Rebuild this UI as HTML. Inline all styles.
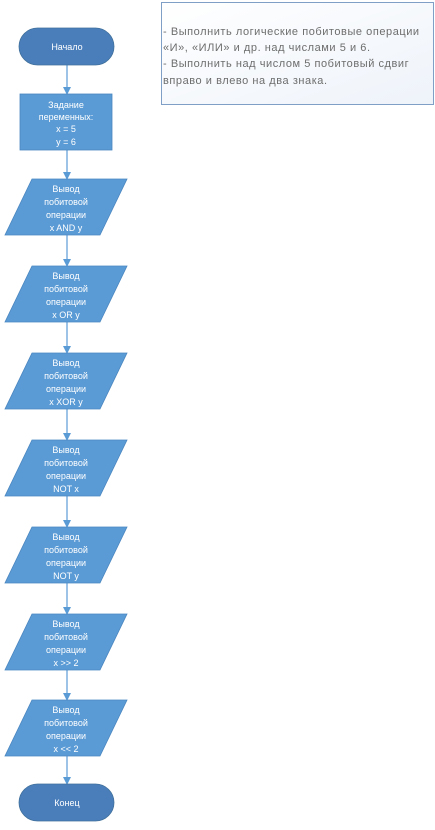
<!DOCTYPE html>
<html><head><meta charset="utf-8"><style>
html,body{margin:0;padding:0;background:#fff;}
svg{display:block;}
text{font-family:"Liberation Sans",sans-serif;font-size:9px;fill:#fff;text-anchor:middle;}
.n{fill:#6d6d6d;text-anchor:start;font-size:11px;letter-spacing:0.55px;}
</style></head><body>
<svg width="435" height="830" viewBox="0 0 435 830" xmlns="http://www.w3.org/2000/svg">
<defs>
<marker id="a" markerWidth="8" markerHeight="8" refX="7" refY="4" orient="auto" markerUnits="userSpaceOnUse">
<path d="M0,0 L8,4 L0,8 z" fill="#5b9bd5"/></marker>
<linearGradient id="g" x1="0" y1="0" x2="1" y2="1"><stop offset="0" stop-color="#fff"/><stop offset="1" stop-color="#eef3fa"/></linearGradient>
</defs>
<rect x="161.5" y="2.5" width="272" height="102" fill="url(#g)" stroke="#7f9fc6"/>
<text class="n" x="163" y="35">- Выполнить логические побитовые операции</text>
<text class="n" x="163" y="51">«И», «ИЛИ» и др. над числами 5 и 6.</text>
<text class="n" x="163" y="67">- Выполнить над числом 5 побитовый сдвиг</text>
<text class="n" x="163" y="84">вправо и влево на два знака.</text>
<g stroke="#5b9bd5" stroke-width="1.2" fill="none" marker-end="url(#a)">
<line x1="67" y1="65" x2="67" y2="94"/>
<line x1="67" y1="150" x2="67" y2="179"/>
<line x1="67" y1="235" x2="67" y2="266"/>
<line x1="67" y1="322" x2="67" y2="353"/>
<line x1="67" y1="409" x2="67" y2="440"/>
<line x1="67" y1="496" x2="67" y2="527"/>
<line x1="67" y1="583" x2="67" y2="614"/>
<line x1="67" y1="670" x2="67" y2="700"/>
<line x1="67" y1="756" x2="67" y2="784"/>
</g>
<rect x="19" y="28" width="95" height="37" rx="18.5" fill="#4a7ebb" stroke="#41719c" stroke-width="0.8"/>
<text x="67" y="50">Начало</text>
<rect x="20" y="94" width="92" height="56" fill="#5b9bd5" stroke="#4a86c0" stroke-width="0.8"/>
<text x="66" y="108">Задание</text><text x="66" y="120">переменных:</text><text x="66" y="132">x = 5</text><text x="66" y="145">y = 6</text>
<g fill="#5b9bd5" stroke="#4a86c0" stroke-width="0.8">
<polygon points="32,179 127,179 100,235 5,235"/>
<polygon points="32,266 127,266 100,322 5,322"/>
<polygon points="32,353 127,353 100,409 5,409"/>
<polygon points="32,440 127,440 100,496 5,496"/>
<polygon points="32,527 127,527 100,583 5,583"/>
<polygon points="32,614 127,614 100,670 5,670"/>
<polygon points="32,700 127,700 100,756 5,756"/>
</g>
<g>
<text x="66" y="192">Вывод</text><text x="66" y="205">побитовой</text><text x="66" y="218">операции</text><text x="66" y="231">x AND y</text>
<text x="66" y="279">Вывод</text><text x="66" y="292">побитовой</text><text x="66" y="305">операции</text><text x="66" y="318">x OR y</text>
<text x="66" y="366">Вывод</text><text x="66" y="379">побитовой</text><text x="66" y="392">операции</text><text x="66" y="405">x XOR y</text>
<text x="66" y="453">Вывод</text><text x="66" y="466">побитовой</text><text x="66" y="479">операции</text><text x="66" y="492">NOT x</text>
<text x="66" y="540">Вывод</text><text x="66" y="553">побитовой</text><text x="66" y="566">операции</text><text x="66" y="579">NOT y</text>
<text x="66" y="627">Вывод</text><text x="66" y="640">побитовой</text><text x="66" y="653">операции</text><text x="66" y="666">x &gt;&gt; 2</text>
<text x="66" y="713">Вывод</text><text x="66" y="726">побитовой</text><text x="66" y="739">операции</text><text x="66" y="752">x &lt;&lt; 2</text>
</g>
<rect x="19" y="784" width="95" height="37" rx="18.5" fill="#4a7ebb" stroke="#41719c" stroke-width="0.8"/>
<text x="67" y="806">Конец</text>
</svg>
</body></html>
